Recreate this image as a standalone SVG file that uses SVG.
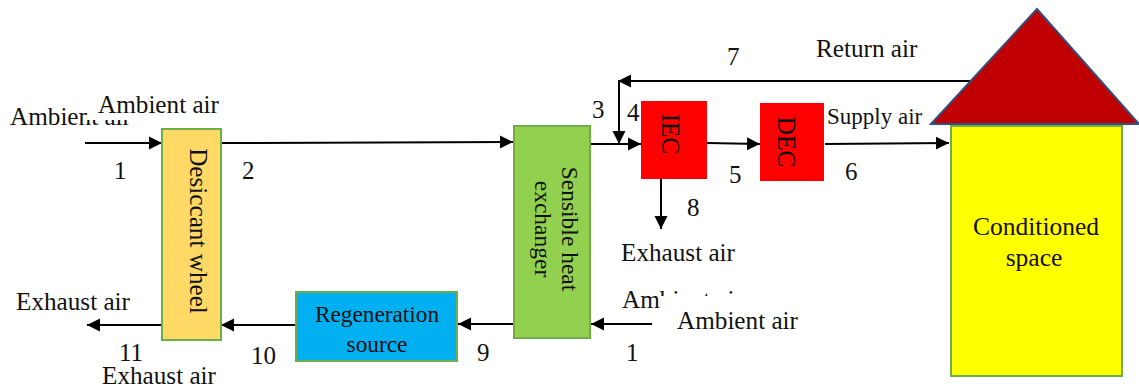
<svg xmlns="http://www.w3.org/2000/svg" width="1139" height="391" viewBox="0 0 1139 391">
<style>
text{font-family:"Liberation Serif","Times New Roman",serif;font-size:25.2px;fill:#111}
.c line{stroke:#000;stroke-width:2;fill:none}
.n{font-size:25px}
</style>
<defs>
<marker id="a" markerUnits="userSpaceOnUse" markerWidth="14" markerHeight="14" refX="13" refY="7" orient="auto"><path d="M0,0.5L13,7L0,13.500Z" fill="#000"/></marker>
</defs>
<rect width="1139" height="391" fill="#fff"/>
<g id="labels-back">
<text x="10" y="125">Ambient air</text>
<rect x="87" y="92" width="133" height="28" fill="#fff"/>
<text x="622" y="308">Ambient air</text>
<rect x="661" y="296" width="100" height="16" fill="#fff"/>
</g>
<g id="connectors" class="c">
<line x1="85" y1="143" x2="162" y2="143" marker-end="url(#a)"/>
<line x1="221" y1="143" x2="513" y2="142" marker-end="url(#a)"/>
<line x1="591" y1="144" x2="641" y2="144" marker-end="url(#a)"/>
<line x1="707" y1="143" x2="760" y2="144" marker-end="url(#a)"/>
<line x1="825" y1="144" x2="949" y2="143" marker-end="url(#a)"/>
<line x1="971" y1="81" x2="618" y2="81" marker-end="url(#a)"/>
<line x1="619" y1="81" x2="619" y2="144" marker-end="url(#a)"/>
<line x1="661" y1="179" x2="661" y2="229" marker-end="url(#a)"/>
<line x1="652" y1="324" x2="591" y2="324" marker-end="url(#a)"/>
<line x1="513" y1="324" x2="458" y2="324" marker-end="url(#a)"/>
<line x1="296" y1="325" x2="221" y2="325" marker-end="url(#a)"/>
<line x1="162" y1="325" x2="87" y2="325" marker-end="url(#a)"/>
</g>
<g id="desiccant-wheel">
<rect x="162" y="129" width="59" height="211" fill="#ffd966" stroke="#70ad47" stroke-width="2"/>
<text transform="translate(190,231) rotate(90)" text-anchor="middle">Desiccant wheel</text>
</g>
<g id="sensible-heat-exchanger">
<rect x="514" y="126" width="76" height="212" fill="#92d050" stroke="#70ad47" stroke-width="2"/>
<text transform="translate(552,229) rotate(90)" text-anchor="middle" style="font-size:23.500px"><tspan x="0" y="-10">Sensible heat</tspan><tspan x="0" y="17">exchanger</tspan></text>
</g>
<g id="regeneration-source">
<rect x="296" y="292" width="161" height="69" fill="#00b0f0" stroke="#70ad47" stroke-width="2"/>
<text x="377" y="322" text-anchor="middle" style="font-size:23.300px">Regeneration</text>
<text x="377" y="352" text-anchor="middle" style="font-size:23.300px">source</text>
</g>
<g id="iec">
<rect x="641" y="101" width="66" height="78" fill="#f00"/>
<text transform="translate(662,134) rotate(90)" text-anchor="middle">IEC</text>
</g>
<g id="dec">
<rect x="760" y="103" width="64" height="78" fill="#f00"/>
<text transform="translate(778,142) rotate(90)" text-anchor="middle">DEC</text>
</g>
<g id="conditioned-space">
<rect x="951" y="126" width="171" height="250" fill="#ff0" stroke="#70ad47" stroke-width="2"/>
<text x="1036" y="235" text-anchor="middle" style="font-size:25.500px">Conditioned</text>
<text x="1034" y="266" text-anchor="middle" style="font-size:25.500px">space</text>
</g>
<g id="roof">
<polygon points="1037,9 931,124 1139,124" fill="#c00000" stroke="#2f4f7f" stroke-width="2"/>
</g>
<g id="labels">
<text x="98" y="113">Ambient air</text>
<text x="816" y="57">Return air</text>
<text x="827" y="124" style="font-size:23px">Supply air</text>
<text x="621" y="261">Exhaust air</text>
<text x="677" y="329">Ambient air</text>
<text x="16" y="310">Exhaust air</text>
<text x="102" y="384">Exhaust air</text>
<text class="n" x="114" y="179">1</text>
<text class="n" x="242" y="179">2</text>
<text class="n" x="592" y="118">3</text>
<text class="n" x="627" y="121">4</text>
<text class="n" x="729" y="183">5</text>
<text class="n" x="845" y="180">6</text>
<text class="n" x="727" y="65">7</text>
<text class="n" x="687" y="216">8</text>
<text class="n" x="477" y="361">9</text>
<text class="n" x="251" y="364">10</text>
<text class="n" x="119" y="361">11</text>
<text class="n" x="626" y="361">1</text>
</g>
</svg>
